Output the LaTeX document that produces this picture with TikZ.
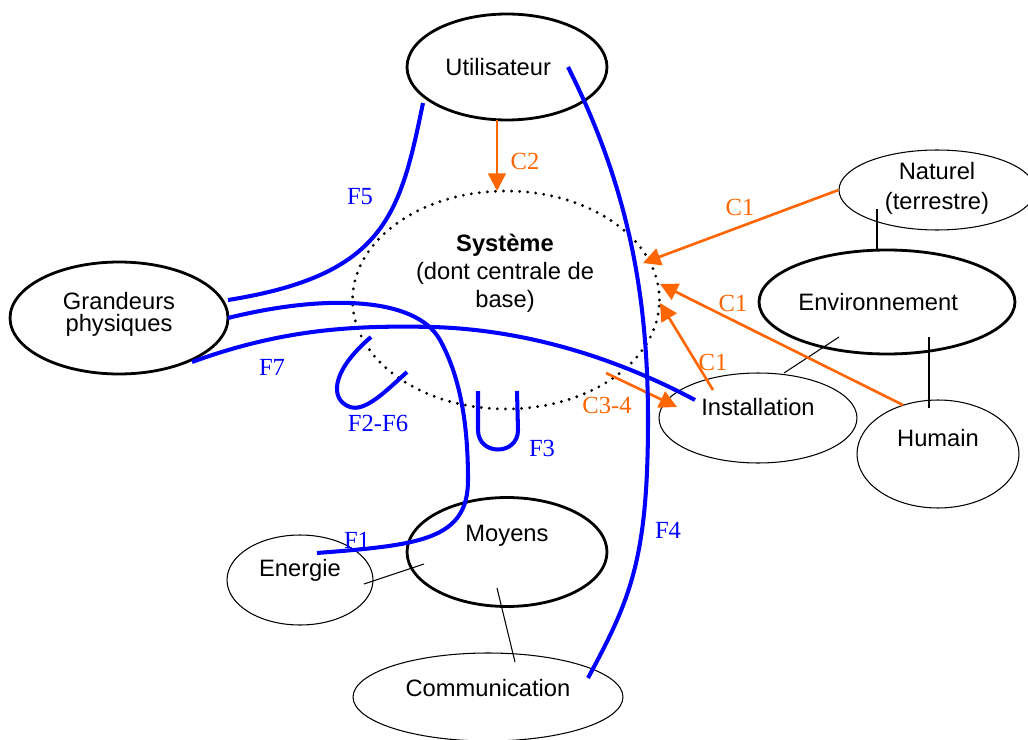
\documentclass[tikz,border=0pt]{standalone}
\usepackage{fontspec}
\setmainfont{Liberation Serif}
\setsansfont{Liberation Sans}
\usepackage{xcolor}
\usepackage{tikz}
\usetikzlibrary{positioning, arrows.meta, shapes.geometric}

\definecolor{corange}{HTML}{FF6600}
\definecolor{fblue}{HTML}{0000FF}

\begin{document}
\begin{tikzpicture}[
    x=0.02cm, y=-0.02cm,
    bigell/.style={ellipse, draw=black, line width=1.6pt, inner sep=0pt},
    smallell/.style={ellipse, draw=black, line width=0.6pt, inner sep=0pt},
    sysell/.style={ellipse, draw=black, line width=1.8pt, dash pattern=on 0pt off 4.6pt, line cap=round, inner sep=0pt},
    txt/.style={font=\sffamily\fontsize{13.5}{16}\selectfont, align=center},
    link/.style={draw=black, line width=0.6pt},
    contrainte/.style={-{Triangle[length=10pt,width=10pt]}, line width=1.5pt, draw=corange},
    flux/.style={line width=2.3pt, draw=fblue},
    clabel/.style={font=\fontsize{14}{16}\selectfont, text=corange},
    flabel/.style={font=\fontsize{14}{16}\selectfont, text=fblue}
]
\useasboundingbox (0,0) rectangle (1028,740);

% Nodes
\node[bigell, minimum width=4cm, minimum height=2.12cm, label={[txt, xshift=-5pt]center:Utilisateur}] (util) at (507,67) {};
\node[sysell, minimum width=6.14cm, minimum height=4.36cm] (sys) at (506,300) {};
\node[txt, font=\sffamily\fontsize{13.5}{16}\selectfont] (systxt) at (505,273) {\textbf{Système}\\(dont centrale de\\base)};
\node[bigell, minimum width=4.36cm, minimum height=2.24cm, label={[txt, font=\sffamily\fontsize{13.5}{12.5}\selectfont, yshift=2pt]center:Grandeurs\\physiques}] (gp) at (119,318) {};
\node[smallell, minimum width=3.92cm, minimum height=1.6cm, label={[txt, font=\sffamily\fontsize{13.5}{17}\selectfont, yshift=1pt]center:Naturel\\(terrestre)}] (nat) at (937,190) {};
\node[bigell, minimum width=5.12cm, minimum height=2.08cm, label={[txt, xshift=-5pt]center:Environnement}] (env) at (887,302) {};
\node[smallell, minimum width=3.96cm, minimum height=1.8cm, label={[txt, yshift=6pt]center:Installation}] (inst) at (758,418) {};
\node[smallell, minimum width=3.24cm, minimum height=2.16cm, label={[txt, yshift=9pt]center:Humain}] (hum) at (938,454) {};
\node[bigell, minimum width=4cm, minimum height=2.18cm, label={[txt, yshift=9pt]center:Moyens}] (moy) at (507,552) {};
\node[smallell, minimum width=2.92cm, minimum height=1.8cm, label={[txt, yshift=5.5pt]center:Energie}] (ener) at (300,580) {};
\node[smallell, minimum width=5.4cm, minimum height=1.76cm, label={[txt, yshift=5pt]center:Communication}] (com) at (488,697) {};

% Links
\coordinate (natlow) at (877,209);
\coordinate (envtop) at (877,250);
\coordinate (envsw) at (839,337);
\coordinate (insttop) at (784,373);
\coordinate (envse) at (929,337);
\coordinate (humtop) at (929,408);
\coordinate (enere) at (364,584);
\coordinate (moyw) at (424,564);
\coordinate (moyin) at (497,588);
\coordinate (comtop) at (515,662);
\draw[link] (natlow) -- (envtop);
\draw[link] (envsw) -- (insttop);
\draw[link] (envse) -- (humtop);
\draw[link] (enere) -- (moyw);
\draw[link] (moyin) -- (comtop);

% Constraints
\coordinate (utilbot) at (497,120);
\coordinate (systop) at (497,191);
\coordinate (sysne) at (643,263);
\coordinate (syse) at (660,284);
\coordinate (sysee) at (660,303);
\coordinate (humnw) at (903,405);
\coordinate (instn) at (713,390);
\coordinate (sysse) at (606,373);
\coordinate (instw) at (677,407);
\draw[contrainte] (utilbot) -- (systop);
\draw[contrainte] (nat.west) -- (sysne);
\draw[contrainte] (humnw) -- (syse);
\draw[contrainte] (instn) -- (sysee);
\draw[contrainte] (sysse) -- (instw);
\node[clabel] (c2) at (525,161) {C2};
\node[clabel] (c1a) at (740,207) {C1};
\node[clabel] (c1b) at (733,303) {C1};
\node[clabel] (c1c) at (713,362) {C1};
\node[clabel] (c34) at (607,405) {C3-4};

% Flows
\coordinate (f5a) at (423,103);
\coordinate (f5b) at (228,300);
\coordinate (f4a) at (568,67);
\coordinate (f4b) at (588,678);
\coordinate (f1a) at (228,318);
\coordinate (f1b) at (317,553);
\coordinate (f7a) at (192,362);
\coordinate (f7b) at (695,400);
\draw[flux] (f5a) .. controls (400,215) and (385,275) .. (f5b);
\draw[flux] (f4a) .. controls (630,190) and (648,300) .. (648,420) .. controls (648,560) and (630,600) .. (f4b);
\draw[flux] (f1a) .. controls (320,295) and (415,295) .. (440,340) .. controls (462,380) and (468,430) .. (468,480) .. controls (468,540) and (420,545) .. (f1b);
\draw[flux] (f7a) .. controls (280,330) and (350,325) .. (433,327) .. controls (530,330) and (620,360) .. (f7b);
\draw[flux] (371,337) .. controls (330,372) and (330,400) .. (350,407) .. controls (365,412) and (385,392) .. (407,372);
\draw[flux] (478,391) -- (478,430) .. controls (478,456) and (518,456) .. (518,430) -- (517,391);
\node[flabel] (f5) at (360,197) {F5};
\node[flabel] (f26) at (378,423) {F2-F6};
\node[flabel] (f3) at (542,448) {F3};
\node[flabel] (f7) at (272,367) {F7};
\node[flabel] (f1) at (357,540) {F1};
\node[flabel] (f4) at (668,530) {F4};

\end{tikzpicture}
\end{document}
